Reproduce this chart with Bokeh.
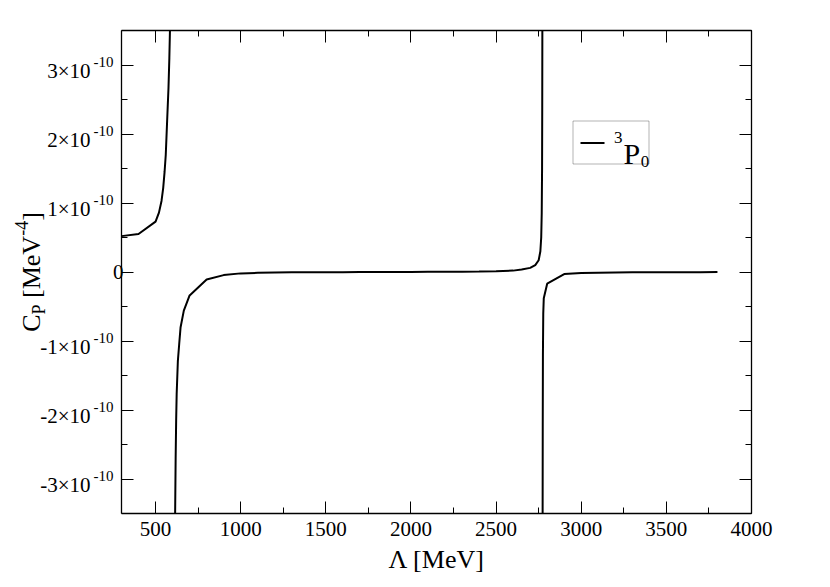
from bokeh.plotting import figure
from bokeh.models import Range1d, LinearAxis, Label, BoxAnnotation, FixedTicker, CustomJSTickFormatter
from bokeh.embed import file_html
from bokeh.resources import INLINE

# ---------------- data (C_P in units of 1e-10 MeV^-4) ----------------
lam_a = [300, 400, 500, 520, 535, 545, 553, 560, 568, 576, 581, 585, 588]
cp_a = [0.52, 0.55, 0.73, 0.86, 1.03, 1.22, 1.45, 1.70, 2.19, 2.67, 3.10, 3.55, 4.0]

lam_b = [613, 615, 618, 621, 624, 631, 639, 647, 666, 700, 800, 900, 1000, 1100, 1200,
         1300, 1400, 1500, 1600, 1700, 1800, 1900, 2000, 2100, 2200, 2300, 2400, 2500,
         2600, 2650, 2700, 2730, 2750, 2760, 2765, 2768, 2770, 2771, 2772]
cp_b = [-4.2, -3.5, -2.7, -2.15, -1.77, -1.29, -1.04, -0.80, -0.56, -0.34, -0.11, -0.045,
        -0.02, -0.012, -0.008, -0.005, -0.004, -0.003, -0.002, -0.001, 0.0, 0.0, 0.001,
        0.002, 0.003, 0.005, 0.008, 0.012, 0.02, 0.035, 0.06, 0.10, 0.17, 0.30, 0.5, 0.85,
        1.5, 2.4, 4.0]

lam_c = [2773, 2774, 2775, 2777, 2780, 2800, 2900, 3000, 3100, 3200, 3300, 3400, 3500,
         3600, 3700, 3800]
cp_c = [-4.0, -2.2, -1.2, -0.6, -0.38, -0.17, -0.03, -0.015, -0.01, -0.007, -0.005,
        -0.004, -0.003, -0.002, -0.002, -0.001]

x_ticks = [500, 1000, 1500, 2000, 2500, 3000, 3500, 4000]
x_minor = [250 * k for k in range(2, 17)]
y_ticks = [-3, -2, -1, 0, 1, 2, 3]
y_minor = [0.5 * k for k in range(-7, 8)]
y_tick_main = ["-3×10", "-2×10", "-1×10", "", "1×10", "2×10", "3×10"]
y_tick_sup = ["-10", "-10", "-10", "", "-10", "-10", "-10"]
y_tick_zero = ["", "", "", "0", "", "", ""]

SCALE = 1e-10
XMIN, XMAX = 300, 4000
YMIN, YMAX = -3.5, 3.5

FONT = "Liberation Serif"

# canvas-pixel layout of the frame
FL, FT, FR, FB = 121, 30, 751, 513
KY = (YMAX - YMIN) * SCALE / (FB - FT)   # data per pixel (y)


def dx(px):
    return XMIN + (px - FL) * (XMAX - XMIN) / (FR - FL)


def dy(py):
    return (YMAX - (py - FT) * (YMAX - YMIN) / (FB - FT)) * SCALE


p = figure(frame_width=FR - FL, frame_height=FB - FT,
           x_range=Range1d(XMIN, XMAX), y_range=Range1d(YMIN * SCALE, YMAX * SCALE),
           output_backend="svg", toolbar_location=None,
           min_border_left=FL, min_border_top=FT, min_border_right=75,
           min_border_bottom=72)
p.outline_line_color = None
p.xgrid.visible = False
p.ygrid.visible = False
p.background_fill_color = "white"
p.border_fill_color = "white"

xt = FixedTicker(ticks=x_ticks, minor_ticks=x_minor)
yt = FixedTicker(ticks=[v * SCALE for v in y_ticks], minor_ticks=[v * SCALE for v in y_minor])
blank = CustomJSTickFormatter(code="return ''")
LOOKUP = ("for (let i = 0; i < vals.length; i++) {"
          " if (Math.abs(vals[i]*scale - tick) < 0.01*scale) return labs[i]; } return '';")


def lookup(labs):
    return CustomJSTickFormatter(code=LOOKUP, args=dict(vals=y_ticks, labs=labs, scale=SCALE))


def style_axis(ax, labels):
    ax.axis_line_color = "black"
    ax.axis_line_width = 1.3
    ax.major_tick_in = 12
    ax.major_tick_out = 0
    ax.minor_tick_in = 6
    ax.minor_tick_out = 0
    ax.major_tick_line_color = "black"
    ax.minor_tick_line_color = "black"
    ax.major_tick_line_width = 1
    ax.minor_tick_line_width = 1
    if not labels:
        ax.formatter = blank
        ax.major_label_standoff = 0
        ax.major_label_text_font_size = "1px"


p.xaxis.ticker = xt
style_axis(p.xaxis[0], True)
p.xaxis.major_label_text_font = FONT
p.xaxis.major_label_text_font_size = "21px"
p.xaxis.major_label_text_color = "black"
p.xaxis.major_label_standoff = 8
p.xaxis.axis_label = "Λ [MeV]"
p.xaxis.axis_label_text_font = FONT
p.xaxis.axis_label_text_font_size = "26px"
p.xaxis.axis_label_text_font_style = "normal"
p.xaxis.axis_label_text_color = "black"
p.xaxis.axis_label_standoff = 6

# default left axis: the frame edge with its tick marks only
p.yaxis.ticker = yt
style_axis(p.yaxis[0], False)

top = LinearAxis(ticker=xt)
style_axis(top, False)
p.add_layout(top, "above")
right = LinearAxis(ticker=yt)
style_axis(right, False)
p.add_layout(right, "right")

# ---------------- y tick labels: label-only axes (shifted ranges for n×10^-10) ----------------
MAIN_SHIFT = 6.0    # px downward of label centre for "n×10"
SUP_SHIFT = -2.6    # px (upward) for the "-10" exponent
p.extra_y_ranges = {
    "ymain": Range1d(YMIN * SCALE + MAIN_SHIFT * KY, YMAX * SCALE + MAIN_SHIFT * KY),
    "ysup": Range1d(YMIN * SCALE + SUP_SHIFT * KY, YMAX * SCALE + SUP_SHIFT * KY),
}


def label_axis(range_name, labs, size, standoff):
    ax = LinearAxis(ticker=yt, formatter=lookup(labs))
    if range_name:
        ax.y_range_name = range_name
    ax.axis_line_color = None
    ax.major_tick_line_color = None
    ax.minor_tick_line_color = None
    ax.major_tick_in = 0
    ax.major_tick_out = 0
    ax.minor_tick_in = 0
    ax.minor_tick_out = 0
    ax.major_label_text_font = FONT
    ax.major_label_text_font_size = f"{size}px"
    ax.major_label_text_color = "black"
    ax.major_label_standoff = standoff
    p.add_layout(ax, "left")


label_axis(None, y_tick_zero, 21, -2)
label_axis("ysup", y_tick_sup, 15, -4)
label_axis("ymain", y_tick_main, 21, 0)

# ---------------- curve ----------------
for lx, cy in ((lam_a, cp_a), (lam_b, cp_b), (lam_c, cp_c)):
    p.line(lx, [c * SCALE for c in cy], line_color="black", line_width=2)


def side_label(place, x, y, text, size, align="left", angle=0.0):
    p.add_layout(Label(x=x, y=y, text=text, text_font=FONT, text_font_size=f"{size}px",
                       text_align=align, text_baseline="alphabetic", text_color="black",
                       angle=angle), place)


# ---------------- y title with sub/superscripts ----------------
W = {"C": .667, "P": .556, " ": .25, "[": .333, "M": .889, "e": .444, "V": .722,
     "-": .333, "4": .5, "]": .333}
MAIN, SMALL = 26, 18
# (text, size, baseline offset in px, panel, gap before)
pieces = [("C", MAIN, 0, "left", 0), ("P", SMALL, 7, "right", 0),
          ("[MeV", MAIN, 0, "right", W[" "] * MAIN), ("-4", SMALL, -10, "above", 0),
          ("]", MAIN, 0, "above", 0)]
total = sum(sum(W[ch] for ch in t) * fs + g for t, fs, _, _, g in pieces)
pos = (FT + FB) / 2 + total / 2
BASE_X = 31
for t, fs, off, place, gap in pieces:
    pos -= gap
    side_label(place, dx(BASE_X + off), dy(pos), t, fs, "left", 1.5707963)
    pos -= sum(W[ch] for ch in t) * fs

# ---------------- legend ----------------
p.add_layout(BoxAnnotation(left=dx(572.5), right=dx(648.5), top=dy(120.5), bottom=dy(163.5),
                           fill_color=None, fill_alpha=0, line_color="black", line_width=1))
p.add_layout(BoxAnnotation(left=dx(580), right=dx(604), top=dy(141.5), bottom=dy(143.5),
                           fill_color="black", fill_alpha=1, line_color=None))
p.add_layout(Label(x=dx(622), y=dy(137), text="3", text_font=FONT, text_font_size="17px",
                   text_align="right", text_baseline="alphabetic", text_color="black"))
p.add_layout(Label(x=dx(623), y=dy(153), text="P", text_font=FONT, text_font_size="30px",
                   text_align="left", text_baseline="alphabetic", text_color="black"))
p.add_layout(Label(x=dx(623 + .556 * 30 + 0.5), y=dy(161), text="0", text_font=FONT,
                   text_font_size="17px", text_align="left", text_baseline="alphabetic",
                   text_color="black"))

open("out.html", "w").write(file_html(p, INLINE))
